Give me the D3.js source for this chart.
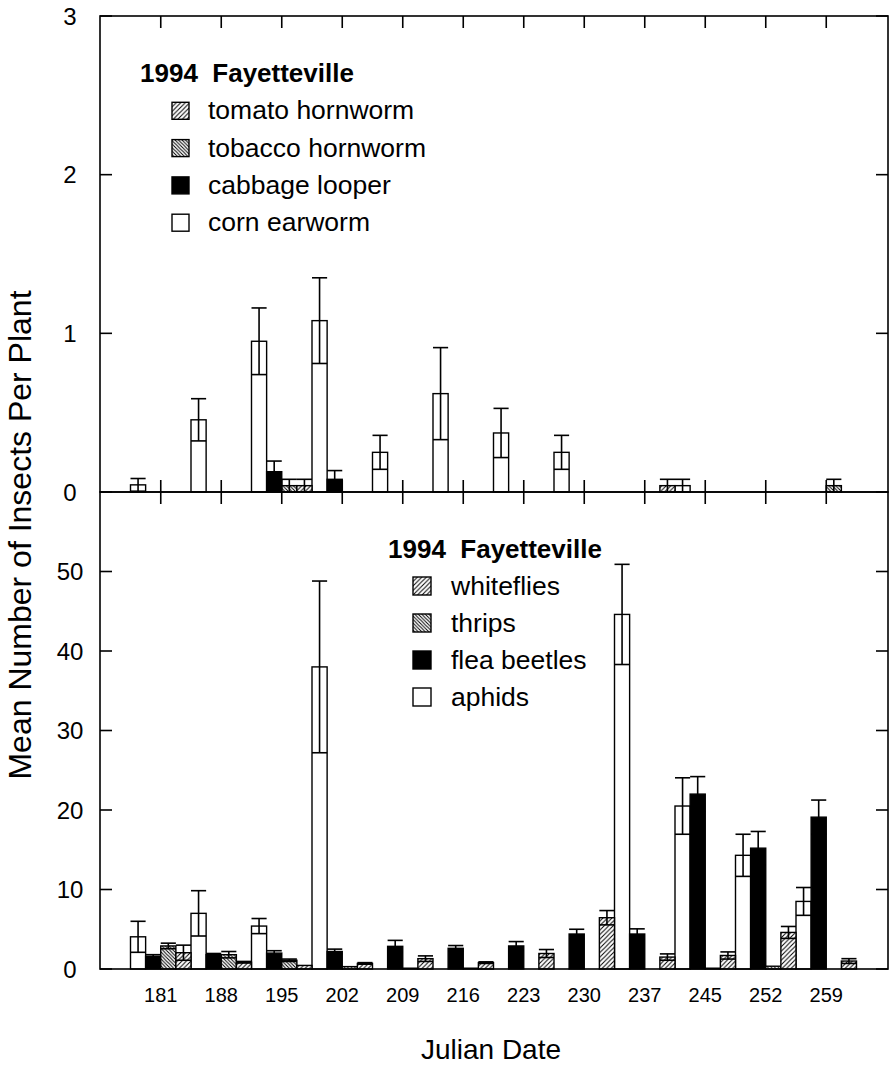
<!DOCTYPE html>
<html>
<head>
<meta charset="utf-8">
<script src="https://cdn.jsdelivr.net/npm/d3@7"></script>
<style>
  html, body { margin: 0; padding: 0; background: #fff; }
  svg { display: block; }
  text { font-family: "Liberation Sans", Arial, Helvetica, sans-serif; fill: #000; }
</style>
</head>
<body>
<svg id="chart" width="892" height="1067"></svg>
<script>
// ---------- data ----------
const dates = ["181","188","195","202","209","216","223","230","237","245","252","259"];

// top panel (larvae)
const cornEarworm      = [0.045, 0.455, 0.95, 1.08, 0.25, 0.62, 0.372, 0.25, 0, 0.04, 0, 0];
const cornEarwormSE    = [0.04, 0.133, 0.21, 0.27, 0.107, 0.29, 0.155, 0.107, 0, 0.04, 0, 0];
const cabbageLooper    = [0, 0, 0.128, 0.08, 0, 0, 0, 0, 0, 0, 0, 0];
const cabbageLooperSE  = [0, 0, 0.067, 0.055, 0, 0, 0, 0, 0, 0, 0, 0];
const tobaccoHornworm  = [0, 0, 0.04, 0, 0, 0, 0, 0, 0, 0, 0, 0.04];
const tobaccoHornwormSE= [0, 0, 0.04, 0, 0, 0, 0, 0, 0, 0, 0, 0.04];
const tomatoHornworm   = [0, 0, 0.04, 0, 0, 0, 0, 0, 0.04, 0, 0, 0];
const tomatoHornwormSE = [0, 0, 0.04, 0, 0, 0, 0, 0, 0.04, 0, 0, 0];

// bottom panel
const aphids        = [4.05, 7.0, 5.4, 38.0, 0, 0, 0, 0, 44.6, 20.5, 14.3, 8.5];
const aphidsSE      = [1.95, 2.85, 0.95, 10.8, 0, 0, 0, 0, 6.3, 3.55, 2.65, 1.75];
const fleaBeetles   = [1.6, 1.8, 2.0, 2.2, 2.85, 2.6, 2.9, 4.4, 4.4, 22.0, 15.2, 19.1];
const fleaBeetlesSE = [0.2, 0.15, 0.3, 0.3, 0.75, 0.35, 0.55, 0.6, 0.65, 2.2, 2.1, 2.15];
const thrips        = [2.9, 1.8, 1.1, 0.3, 0.1, 0.1, 0, 0, 0, 0.1, 0.35, 0];
const thripsSE      = [0.35, 0.4, 0.15, 0, 0, 0, 0, 0, 0, 0, 0, 0];
const whiteflies    = [2.05, 0.85, 0.45, 0.7, 1.3, 0.8, 1.95, 6.45, 1.5, 1.7, 4.6, 1.0];
const whitefliesSE  = [0.95, 0.1, 0, 0.1, 0.35, 0.1, 0.5, 0.9, 0.4, 0.45, 0.75, 0.3];

const topTicks = [0, 1, 2, 3];
const botTicks = [0, 10, 20, 30, 40, 50];
const legendTitle = "1994\u00A0 Fayetteville";
const topLegend = ["tomato hornworm", "tobacco hornworm", "cabbage looper", "corn earworm"];
const botLegend = ["whiteflies", "thrips", "flea beetles", "aphids"];

// ---------- layout ----------
const L = 100, R = 888, T = 16, MID = 492, B = 969;
const svg = d3.select("#chart");

const defs = svg.append("defs");
function hatch(id, size, dir) {
  const p = defs.append("pattern").attr("id", id)
    .attr("patternUnits", "userSpaceOnUse").attr("width", size).attr("height", size);
  p.append("rect").attr("width", size).attr("height", size).attr("fill", "#fff");
  const d = dir > 0
    ? `M0,${size} L${size},0 M${-size/2},${size/2} L${size/2},${-size/2} M${size/2},${size*1.5} L${size*1.5},${size/2}`
    : `M0,0 L${size},${size} M${-size/2},${size/2} L${size/2},${size*1.5} M${size/2},${-size/2} L${size*1.5},${size/2}`;
  p.append("path").attr("d", d).attr("stroke", "#000").attr("stroke-width", 1);
}
hatch("fwd", 4.5, 1);   // ///
hatch("bck", 3.5, -1);  // \\\

const fills = { white: "#fff", black: "#000", fwd: "url(#fwd)", bck: "url(#bck)" };

const x = d3.scaleBand().domain(dates).range([130.5, 856.5]).padding(0);
const xi = d3.scaleBand().domain([0, 1, 2, 3]).range([0, x.bandwidth()]).padding(0);

const yTop = d3.scaleLinear().domain([0, 3]).range([MID, T]);
const yBot = d3.scaleLinear().domain([0, 60]).range([B, MID]);

function drawSeries(g, y, vals, ses, idx, fill) {
  const w = xi.bandwidth();
  dates.forEach((d, i) => {
    const v = vals[i], se = ses[i];
    const x0 = x(d) + xi(idx);
    if (v > 0) {
      g.append("rect").attr("x", x0).attr("y", y(v))
        .attr("width", w).attr("height", y(0) - y(v))
        .attr("fill", fills[fill]).attr("stroke", "#000").attr("stroke-width", 1.4);
    }
    if (se > 0) {
      const lo = Math.max(0, v - se), hi = v + se;
      const cx = x0 + w / 2;
      g.append("line").attr("x1", cx).attr("x2", cx).attr("y1", y(lo)).attr("y2", y(hi))
        .attr("stroke", "#000").attr("stroke-width", 1.6);
      [hi, lo].forEach(yy => {
        g.append("line").attr("x1", x0).attr("x2", x0 + w).attr("y1", y(yy)).attr("y2", y(yy))
          .attr("stroke", "#000").attr("stroke-width", 1.6);
      });
    }
  });
}

const gTop = svg.append("g");
drawSeries(gTop, yTop, cornEarworm, cornEarwormSE, 0, "white");
drawSeries(gTop, yTop, cabbageLooper, cabbageLooperSE, 1, "black");
drawSeries(gTop, yTop, tobaccoHornworm, tobaccoHornwormSE, 2, "bck");
drawSeries(gTop, yTop, tomatoHornworm, tomatoHornwormSE, 3, "fwd");

const gBot = svg.append("g");
drawSeries(gBot, yBot, aphids, aphidsSE, 0, "white");
drawSeries(gBot, yBot, fleaBeetles, fleaBeetlesSE, 1, "black");
drawSeries(gBot, yBot, thrips, thripsSE, 2, "bck");
drawSeries(gBot, yBot, whiteflies, whitefliesSE, 3, "fwd");

// frames
const axisG = svg.append("g").attr("fill", "none").attr("stroke", "#000").attr("stroke-width", 1.6);
axisG.append("rect").attr("x", L).attr("y", T).attr("width", R - L).attr("height", MID - T);
axisG.append("rect").attr("x", L).attr("y", MID).attr("width", R - L).attr("height", B - MID);

const TL = 12;
dates.forEach(d => {
  const cx = x(d) + x.bandwidth() / 2;
  axisG.append("line").attr("x1", cx).attr("x2", cx).attr("y1", T).attr("y2", T + TL);
  axisG.append("line").attr("x1", cx).attr("x2", cx).attr("y1", MID).attr("y2", MID - TL);
  axisG.append("line").attr("x1", cx).attr("x2", cx).attr("y1", MID).attr("y2", MID + TL);
});
function yTicks(y, ticks) {
  ticks.forEach(t => {
    const yy = y(t);
    axisG.append("line").attr("x1", L).attr("x2", L + TL).attr("y1", yy).attr("y2", yy);
    axisG.append("line").attr("x1", R).attr("x2", R - TL).attr("y1", yy).attr("y2", yy);
  });
}
yTicks(yTop, topTicks);
yTicks(yBot, botTicks);

// y tick labels (centered column)
const lab = svg.append("g").attr("font-size", 24).attr("text-anchor", "middle");
topTicks.forEach(t => lab.append("text").attr("x", 70).attr("y", yTop(t)).attr("dy", "0.36em").text(t));
botTicks.forEach(t => lab.append("text").attr("x", 70).attr("y", yBot(t)).attr("dy", "0.36em").text(t));

// x tick labels
const xl = svg.append("g").attr("font-size", 20).attr("text-anchor", "middle");
dates.forEach(d => xl.append("text").attr("x", x(d) + x.bandwidth() / 2).attr("y", 1002).text(d));

// axis titles
svg.append("text").attr("x", 491).attr("y", 1059).attr("text-anchor", "middle")
  .attr("font-size", 28).text("Julian Date");
svg.append("text").attr("transform", "translate(31,535) rotate(-90)")
  .attr("text-anchor", "middle").attr("font-size", 32)
  .text("Mean Number of Insects Per Plant");

// legends
function legend(tx, ty, sx, textX, names, fillsArr, sw, gap) {
  const g = svg.append("g");
  g.append("text").attr("x", tx).attr("y", ty).attr("font-size", 26).attr("font-weight", "bold").text(legendTitle);
  names.forEach((n, i) => {
    const by = ty + gap * (i + 1);
    g.append("rect").attr("x", sx).attr("y", by - sw).attr("width", sw).attr("height", sw)
      .attr("fill", fills[fillsArr[i]]).attr("stroke", "#000").attr("stroke-width", 1.4);
    g.append("text").attr("x", textX).attr("y", by).attr("font-size", 26.5).text(n);
  });
}
legend(140, 82, 172, 208, topLegend, ["fwd", "bck", "black", "white"], 17, 37.3);
legend(388, 558, 413, 451, botLegend, ["fwd", "bck", "black", "white"], 18, 37);
</script>
</body>
</html>
